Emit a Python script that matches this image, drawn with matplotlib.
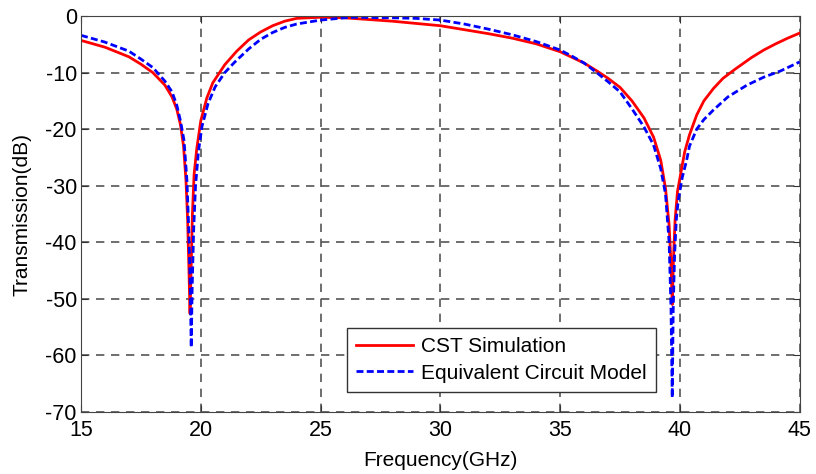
import numpy as np
import matplotlib.pyplot as plt

plt.rcParams['font.family'] = ['Liberation Sans', 'DejaVu Sans']
plt.rcParams['axes.unicode_minus'] = False

# CST simulation
cst_f = [15.0, 16.0, 17.0, 17.5, 18.0, 18.5, 18.8, 19.0, 19.15, 19.28, 19.38, 19.45, 19.5, 19.55,
         19.6, 19.65, 19.72, 19.83, 20.0, 20.25, 20.5, 21.0, 21.5, 22.0, 22.5, 23.0, 23.5,
         24.0, 25.0, 26.0, 27.0, 28.0, 29.0, 30.0, 31.0, 32.0, 33.0, 34.0, 35.0, 35.5, 36.0,
         36.5, 37.0, 37.5, 38.0, 38.5, 38.9, 39.2, 39.4, 39.55, 39.63, 39.68, 39.73, 39.8,
         39.9, 40.07, 40.2, 40.4, 40.7, 41.0, 41.4, 41.8, 42.3, 43.0, 43.5, 44.0, 44.5, 45.0]
cst_db = [-4.3, -5.5, -7.2, -8.5, -10.0, -12.2, -14.3, -16.5, -19.2, -23.0, -29.0, -36.0, -44.0, -52.6,
          -44.0, -35.0, -28.0, -23.5, -18.5, -14.5, -11.8, -8.6, -6.2, -4.2, -2.8, -1.7, -0.9,
          -0.4, -0.2, -0.3, -0.6, -0.9, -1.3, -1.7, -2.4, -3.1, -3.9, -4.9, -6.3, -7.3, -8.3,
          -9.6, -11.0, -12.6, -15.0, -18.0, -21.4, -25.5, -30.5, -37.0, -44.0, -51.0, -43.0, -36.0,
          -31.0, -27.0, -24.0, -21.0, -17.5, -15.0, -12.8, -11.0, -9.4, -7.3, -6.0, -4.9, -3.9, -3.0]

# equivalent circuit model
ecm_f = [15.0, 16.0, 17.0, 17.5, 18.0, 18.5, 18.8, 19.0, 19.15, 19.3, 19.42, 19.5, 19.56, 19.6,
         19.64, 19.7, 19.78, 19.9, 20.05, 20.3, 20.6, 21.0, 21.4, 22.0, 22.5, 23.0, 23.5,
         24.0, 25.0, 26.0, 26.5, 27.0, 28.0, 29.0, 30.0, 31.0, 32.0, 33.0, 34.0, 35.0, 35.5,
         36.0, 36.5, 37.0, 37.5, 38.0, 38.5, 38.9, 39.2, 39.4, 39.55, 39.63, 39.68, 39.72,
         39.78, 39.85, 39.93, 40.1, 40.28, 40.4, 40.7, 41.0, 41.4, 42.0, 42.8, 43.5, 44.2, 45.0]
ecm_db = [-3.4, -4.6, -6.2, -7.6, -9.1, -11.5, -13.4, -15.8, -18.5, -22.0, -29.0, -38.0, -48.0, -58.6,
          -48.0, -38.0, -30.0, -24.0, -19.5, -15.5, -12.5, -10.0, -8.2, -5.8, -4.1, -2.9, -2.0,
          -1.4, -0.7, -0.3, -0.2, -0.25, -0.3, -0.4, -0.7, -1.4, -2.3, -3.3, -4.5, -6.0, -7.1,
          -8.3, -9.9, -11.6, -13.4, -16.4, -19.6, -22.8, -27.0, -31.5, -40.0, -52.0, -67.5, -52.0,
          -42.0, -36.0, -32.6, -28.5, -25.5, -23.0, -20.0, -18.3, -16.6, -14.3, -12.2, -10.8, -9.7, -8.1]

xticks = [15, 20, 25, 30, 35, 40, 45]
yticks = [0, -10, -20, -30, -40, -50, -60, -70]

fig = plt.figure(figsize=(8.16, 4.74), dpi=100)
ax = fig.add_axes([0.0993, 0.131, 0.8807, 0.835])

ax.plot(cst_f, cst_db, color='#ff0000', lw=2, label='CST Simulation')
ax.plot(ecm_f, ecm_db, color='#0000ff', lw=2, ls=(0, (2.5, 1.2)), label='Equivalent Circuit Model')

ax.set_xlim(15, 45)
ax.set_ylim(-70, 0)
ax.set_xticks(xticks)
ax.set_yticks(yticks)
ax.tick_params(direction='in', top=True, right=True, labelsize=15.5, length=5, color='#333333')
ax.tick_params(axis='x', pad=6)
ax.tick_params(axis='y', pad=3)
ax.grid(True, color='#555555', ls=(0, (5, 4)), lw=1.2)
for s in ax.spines.values():
    s.set_color('#444444')

ax.set_xlabel('Frequency(GHz)', fontsize=15, labelpad=7)
ax.set_ylabel('Transmission(dB)', fontsize=15, labelpad=10)

leg = ax.legend(loc='lower left', bbox_to_anchor=(0.37, 0.05), fontsize=15, fancybox=False,
                framealpha=1, edgecolor='#333333', handlelength=2.7, handletextpad=0.4,
                borderpad=0.45, labelspacing=0.35, borderaxespad=0)
leg.get_frame().set_linewidth(1)

fig.savefig('out.png', dpi=100)
